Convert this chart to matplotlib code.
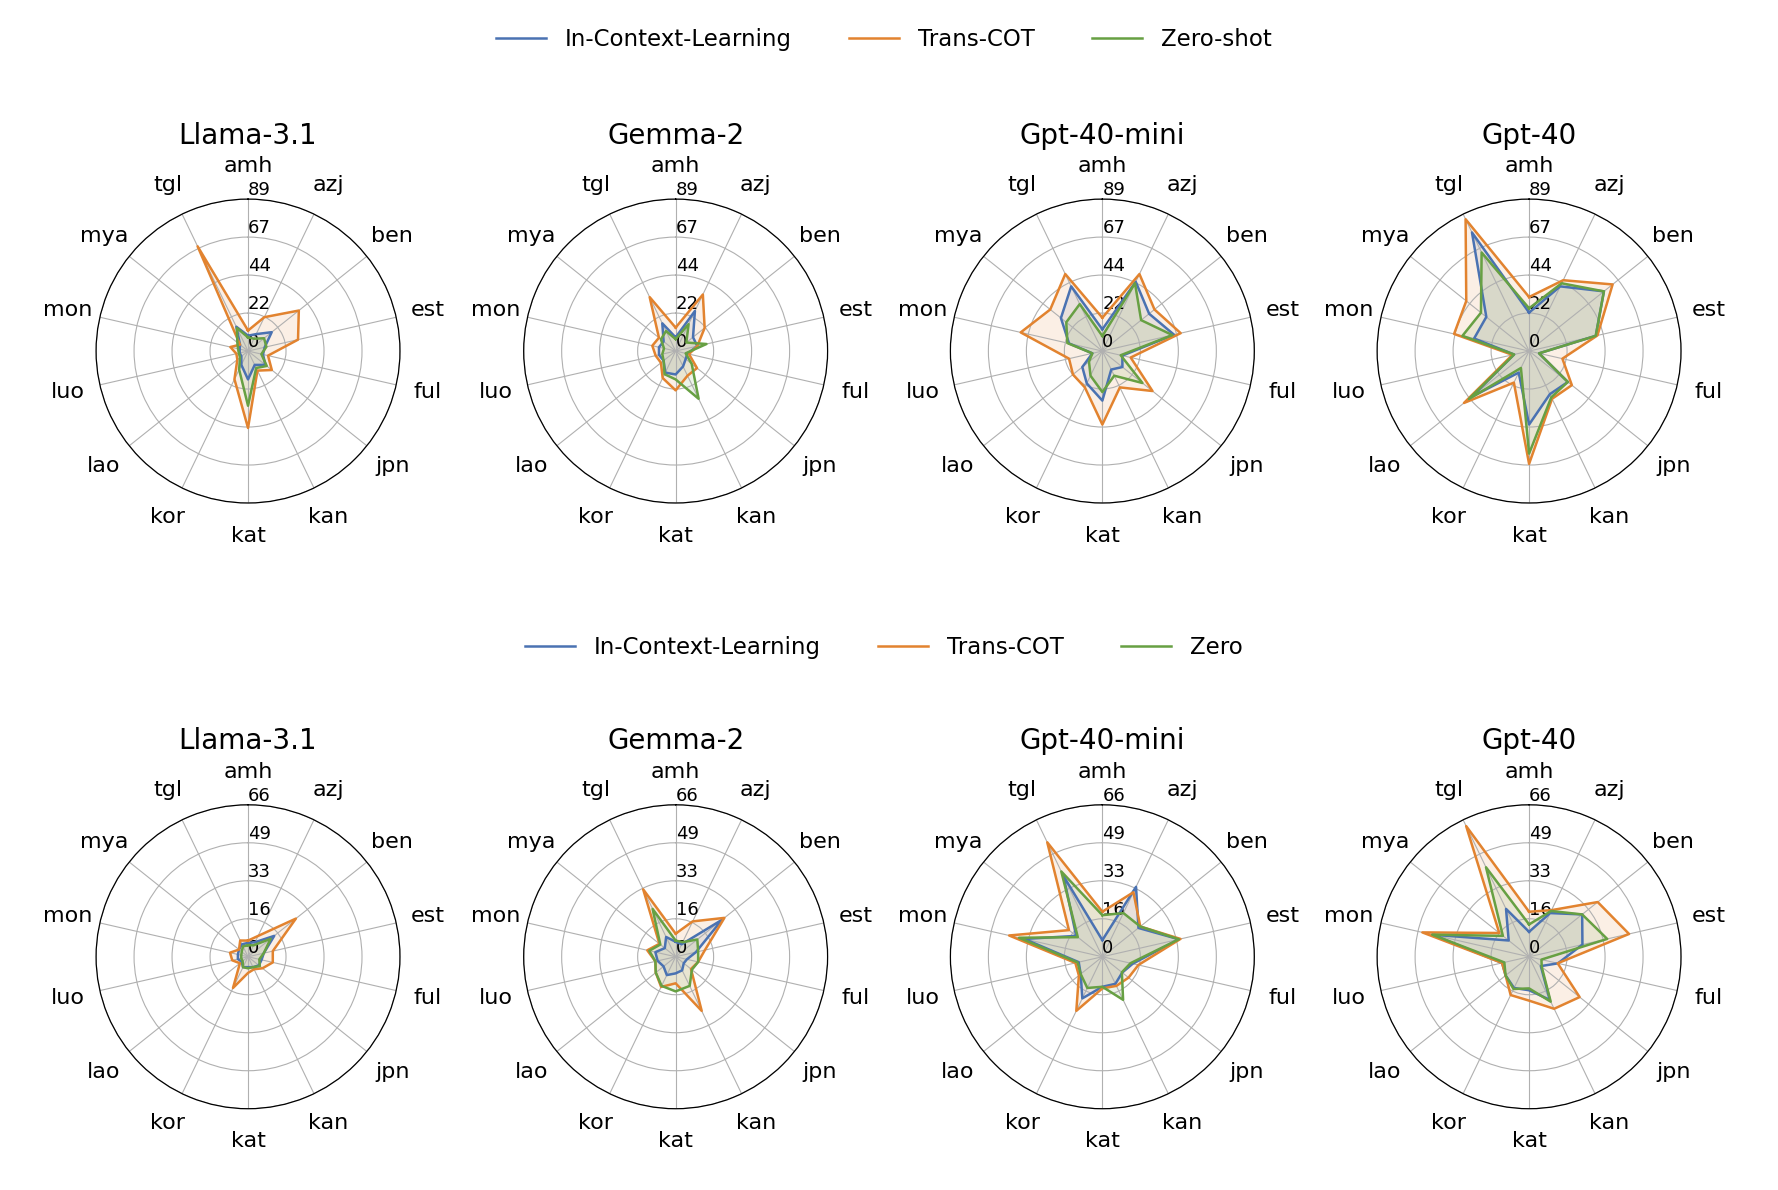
import numpy as np
import matplotlib
matplotlib.use("Agg")
import matplotlib.pyplot as plt
from matplotlib.lines import Line2D

langs = ["amh", "azj", "ben", "est", "ful", "jpn", "kan", "kat",
         "kor", "lao", "luo", "mon", "mya", "tgl"]
models = ["Llama-3.1", "Gemma-2", "Gpt-40-mini", "Gpt-40"]

# top row (scale 0-89)
top_icl = {
    "Llama-3.1":   [9, 11, 17.7, 10, 9, 13, 9, 16.6, 9, 5, 5, 5, 6, 15.8],
    "Gemma-2":     [8, 26, 13, 13, 7, 7.5, 10, 13.7, 14, 9, 10, 10, 9, 18],
    "Gpt-40-mini": [12.7, 45, 35, 43, 12, 15, 12, 29, 21, 15, 6, 20, 31, 42],
    "Gpt-40":      [22.5, 42, 56, 40, 6, 29, 28, 43, 14, 43, 9, 33, 32, 77],
}
top_cot = {
    "Llama-3.1":   [12, 22, 38, 30, 12, 17.8, 12.7, 45, 18.3, 8, 7, 10.6, 6, 68],
    "Gemma-2":     [13.7, 36.7, 21.7, 13, 8, 16, 16, 23, 17.5, 11, 12, 14, 12.5, 35],
    "Gpt-40-mini": [19.5, 50, 39, 47, 17, 37.5, 23.6, 43, 23.6, 22, 20, 49, 39, 50],
    "Gpt-40":      [31.6, 46, 62.5, 41, 20, 32, 31, 66, 20.5, 48.7, 10, 45, 47, 85.6],
}
top_zero = {
    "Llama-3.1":   [8, 8, 12, 11, 8, 14, 11, 32, 12, 6, 5.5, 6, 8, 15],
    "Gemma-2":     [7, 17.5, 8, 18.5, 6, 12, 31, 16.6, 15, 9, 8, 7, 11, 13],
    "Gpt-40-mini": [8.8, 44, 29, 42, 11, 30, 16, 24, 16, 10, 6, 21, 27, 30.5],
    "Gpt-40":      [25, 44, 56, 40, 6, 29, 30, 60, 11, 45, 9, 40, 36, 64],
}

# bottom row (scale 0-66)
bot_icl = {
    "Llama-3.1":   [6, 7, 14.5, 7, 6, 6, 5, 4.5, 5, 3.5, 4.5, 4.5, 5, 6],
    "Gemma-2":     [6.5, 6, 25.7, 9, 5, 4.5, 6.5, 7.2, 8.8, 6.7, 8, 9, 6, 9.5],
    "Gpt-40-mini": [7.2, 33.6, 20, 34, 13.5, 11, 13, 13, 20, 12, 10.5, 34.7, 14.5, 38.8],
    "Gpt-40":      [10.8, 21, 29.4, 23.7, 12.8, 6.5, 20.7, 14.5, 15, 13, 12, 43, 11.3, 23],
}
bot_cot = {
    "Llama-3.1":   [7, 10, 26.5, 11, 11, 8, 6, 7, 15, 4.5, 7, 8, 5, 7.8],
    "Gemma-2":     [10, 17, 27, 13, 10, 8.5, 26, 11.5, 14.5, 11, 9, 12.6, 9, 32.4],
    "Gpt-40-mini": [19.5, 31, 21, 34.7, 16, 14.5, 14, 13.7, 26, 13, 12, 41.4, 18.5, 55],
    "Gpt-40":      [19.5, 22.4, 38, 44.4, 12.7, 28, 25, 19, 18.4, 13, 12, 47.4, 16.5, 62.8],
}
bot_zero = {
    "Llama-3.1":   [5, 5.5, 12.5, 7, 5, 6.5, 5, 5, 5, 3, 3, 3, 3.5, 5],
    "Gemma-2":     [7, 7, 12, 10, 10, 9, 14, 15, 14, 11, 9, 11.7, 8.5, 23],
    "Gpt-40-mini": [18, 21, 21, 34, 12.5, 10.8, 20.7, 13, 15, 12, 11, 37, 13.6, 41],
    "Gpt-40":      [14, 22, 29.4, 34.7, 5.5, 7, 21.6, 13.7, 15.5, 13, 11, 43, 14.5, 43],
}

colors = {"icl": "#4A72B2", "cot": "#E2832F", "zero": "#67A043"}

angles = np.linspace(0, 2 * np.pi, len(langs), endpoint=False)
angles_c = np.concatenate([angles, angles[:1]])

fig = plt.figure(figsize=(17.78, 11.90), dpi=100)

xcent = [0.1395, 0.380, 0.620, 0.860]
rw, rh = 0.0855, 0.1277


def radar(ax, icl, cot, zero, rmax, title):
    ax.set_theta_offset(np.pi / 2)
    ax.set_theta_direction(-1)
    for vals, key in [(icl, "icl"), (cot, "cot"), (zero, "zero")]:
        v = np.concatenate([vals, vals[:1]])
        ax.plot(angles_c, v, color=colors[key], linewidth=1.8)
        ax.fill(angles_c, v, color=colors[key], alpha=0.12)
    ax.set_ylim(0, rmax)
    ticks = np.linspace(0, rmax, 5)
    ax.set_yticks(ticks)
    ax.set_yticklabels([f"{t:.0f}" for t in ticks], fontsize=13)
    ax.set_rlabel_position(0)
    ax.set_xticks(angles)
    ax.set_xticklabels(langs, fontsize=16)
    ax.tick_params(axis="x", pad=13)
    ax.grid(color="#b0b0b0", linewidth=0.8)
    ax.spines["polar"].set_linewidth(0.9)
    ax.set_title(title, fontsize=20, pad=40)


for icl, cot, zero, rmax, cy in [
        (top_icl, top_cot, top_zero, 88.9, 0.705),
        (bot_icl, bot_cot, bot_zero, 65.8, 0.196)]:
    for i, m in enumerate(models):
        ax = fig.add_axes([xcent[i] - rw, cy - rh, 2 * rw, 2 * rh], projection="polar")
        radar(ax, icl[m], cot[m], zero[m], rmax, m)

h1 = [Line2D([0], [0], color=colors[k], linewidth=1.8) for k in ["icl", "cot", "zero"]]
fig.legend(h1, ["In-Context-Learning", "Trans-COT", "Zero-shot"], loc="center",
           bbox_to_anchor=(0.497, 0.967), ncol=3, frameon=False, fontsize=16.5,
           columnspacing=2.5, handlelength=2.2)
fig.legend(h1, ["In-Context-Learning", "Trans-COT", "Zero"], loc="center",
           bbox_to_anchor=(0.497, 0.456), ncol=3, frameon=False, fontsize=16.5,
           columnspacing=2.5, handlelength=2.2)

fig.savefig("out.png", dpi=100)
